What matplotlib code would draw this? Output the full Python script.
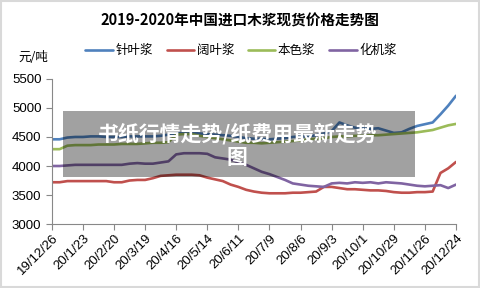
import numpy as np
import pandas as pd
import matplotlib
matplotlib.use("Agg")
import matplotlib.pyplot as plt
from matplotlib.patches import Rectangle

plt.rcParams['font.family'] = ['Noto Sans CJK SC', 'DejaVu Sans']

# weekly dates, 2019-12-26 .. 2020-12-24
dates = pd.date_range("2019-12-26", periods=53, freq="7D")

# 针叶浆
softwood = [4460, 4460, 4490, 4500, 4500, 4510, 4510, 4500, 4500, 4500,
            4510, 4510, 4510, 4510, 4520, 4540, 4560, 4570, 4570, 4560,
            4550, 4540, 4530, 4520, 4500, 4480, 4470, 4470, 4460, 4470,
            4480, 4500, 4510, 4510, 4530, 4560, 4600, 4750, 4700, 4660,
            4650, 4640, 4650, 4610, 4570, 4580, 4640, 4690, 4720, 4750,
            4890, 5040, 5210]
# 阔叶浆
hardwood = [3720, 3720, 3740, 3740, 3740, 3740, 3740, 3740, 3720, 3720,
            3750, 3760, 3760, 3790, 3830, 3840, 3850, 3850, 3850, 3840,
            3800, 3770, 3740, 3680, 3640, 3590, 3560, 3540, 3530, 3530,
            3530, 3540, 3540, 3550, 3560, 3640, 3640, 3620, 3600, 3600,
            3590, 3580, 3580, 3570, 3550, 3540, 3540, 3550, 3550, 3560,
            3880, 3960, 4070]
# 本色浆
unbleached = [4290, 4290, 4350, 4360, 4360, 4360, 4370, 4370, 4370, 4380,
              4380, 4380, 4390, 4400, 4400, 4410, 4540, 4550, 4550, 4520,
              4500, 4480, 4460, 4440, 4420, 4400, 4400, 4390, 4400, 4410,
              4420, 4430, 4440, 4460, 4470, 4480, 4500, 4510, 4510, 4520,
              4520, 4530, 4530, 4540, 4550, 4560, 4570, 4580, 4600, 4620,
              4660, 4700, 4725]
# 化机浆
bctmp = [4000, 4000, 4010, 4020, 4020, 4020, 4020, 4020, 4020, 4020,
         4040, 4050, 4040, 4040, 4060, 4080, 4200, 4220, 4220, 4220,
         4210, 4150, 4130, 4110, 4060, 4020, 3960, 3900, 3860, 3810,
         3760, 3700, 3680, 3660, 3650, 3640, 3700, 3710, 3700, 3720,
         3710, 3720, 3700, 3720, 3710, 3700, 3680, 3660, 3650, 3660,
         3670, 3620, 3680]

series = [("针叶浆", softwood, "#4F81BD"),
          ("阔叶浆", hardwood, "#C0504D"),
          ("本色浆", unbleached, "#9BBB59"),
          ("化机浆", bctmp, "#8064A2")]

fig = plt.figure(figsize=(4.8, 2.88), dpi=100)
ax = fig.add_axes([0.108, 0.222, 0.842, 0.504])

for name, vals, col in series:
    ax.plot(dates, vals, color=col, lw=1.9, label=name, solid_capstyle='round')

ax.set_ylim(3000, 5500)
ax.set_yticks(np.arange(3000, 5501, 500))
ax.set_xlim(dates[0], dates[-1])
ticks = dates[::4]
ax.set_xticks(ticks)
ax.set_xticklabels([f"{d.year % 100}/{d.month}/{d.day}" for d in ticks],
                   rotation=45, ha='right', rotation_mode='anchor',
                   family='Liberation Sans', fontsize=9.5)
for lab in ax.get_yticklabels():
    lab.set_family('Liberation Sans')
    lab.set_fontsize(9.5)
ax.tick_params(axis='both', colors='#888888', labelcolor='black', length=4, width=0.8)
ax.tick_params(axis='x', pad=2)
for s in ['top', 'right']:
    ax.spines[s].set_visible(False)
for s in ['left', 'bottom']:
    ax.spines[s].set_color('#888888')
    ax.spines[s].set_linewidth(0.8)

fig.text(0.5, 0.93, "2019-2020年中国进口木浆现货价格走势图", ha='center', va='center',
         fontsize=10.5, fontweight='bold')
fig.text(0.038, 0.80, "元/吨", ha='left', va='center', fontsize=9)
fig.legend(loc='center', bbox_to_anchor=(0.502, 0.823), ncol=4, frameon=False,
           fontsize=9, handlelength=2.2, handletextpad=0.2, columnspacing=1.1)

# grey overlay band with caption
fig.patches.append(Rectangle((0.131, 0.385), 0.733, 0.229, transform=fig.transFigure,
                             facecolor='black', alpha=0.37, edgecolor='none', zorder=5))
fig.text(0.494, 0.495, "书纸行情走势/纸费用最新走势\n图", ha='center', va='center',
         multialignment='center', fontsize=15, fontweight='bold', color='white',
         linespacing=1.1, zorder=6)

# outer frame
fig.patches.append(Rectangle((0.002, 0.003), 0.995, 0.994, transform=fig.transFigure,
                             facecolor='none', edgecolor='#d9d9d9', lw=1.5, zorder=7))

fig.savefig("out.png", dpi=100)
